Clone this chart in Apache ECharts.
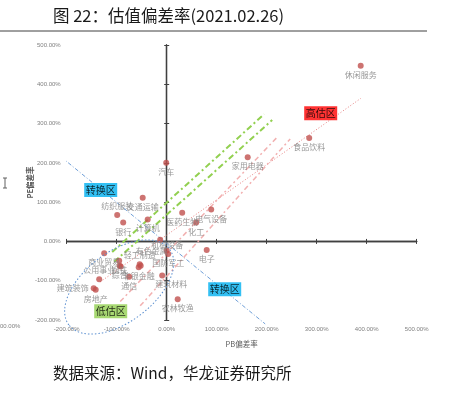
<!DOCTYPE html>
<html>
<head>
<meta charset="utf-8">
<script src="https://cdn.jsdelivr.net/npm/echarts@6.0.0/dist/echarts.min.js"></script>
<style>
  html, body { margin: 0; padding: 0; background: #fff; }
  #main { width: 452px; height: 397px; }
</style>
</head>
<body>
<div id="main"></div>
<script>
// industry valuation deviation, PB (x) vs PE (y), in %
var industries = ['休闲服务', '食品饮料', '家用电器', '汽车', '交通运输', '纺织服装', '银行',
  '计算机', '医药生物', '电气设备', '化工', '机械设备', '有色金属', '国防军工', '电子',
  '商业贸易', '钢铁', '综合', '采掘', '轻工制造', '非银金融', '传媒', '通信', '公用事业',
  '建筑装饰', '房地产', '建筑材料', '农林牧渔'];
var pbDev = [388, 285, 162, -1, -48, -99, -87, -38, 31, 89, 59, -13, 0, 3, 80,
  -125, -95, -94, -92, -54, -56, -52, -75, -135, -146, -142, -9, 22];
var peDev = [447, 263, 214, 200, 111, 67, 48, 56, 73, 81, 48, 4, -23, -32, -22,
  -30, -49, -62, -64, -58, -66, -62, -90, -96, -119, -123, -87, -147];

// guide lines, [pb, pe] endpoints
var transitionLine = [[-239, 244], [197, -210]];
var trendLine = [[-133, -103], [388, 364]];
var greenLineA = [[-109, -27], [195, 324]];
var greenLineB = [[-105, -52], [211, 309]];
var pinkLineA = [[-93, -153], [223, 268]];
var pinkLineB = [[-53, -164], [247, 261]];

// zone tags
var zoneNames = ['转换区', '转换区', '高估区', '低估区'];
var zonePb = [-132, 116, 308, -112];
var zonePe = [131, -122, 326, -178];
var zoneColors = {'转换区': '#00b0f0', '高估区': '#ff0000', '低估区': '#92d050'};

// low-valuation ellipse centre
var ellipseCenter = [-95, -116];

var xTicks = {min: -200, max: 500, interval: 100};
var yTicks = {min: -200, max: 500, interval: 100};

var labelPlace = {'纺织服装': 'top', '有色金属': 'left', '建筑装饰': 'left', '公用事业': 'top', '轻工制造': 'top'};
var labelShift = {'机械设备': [7, -4], '建筑材料': [9, -1], '有色金属': [6, 0]};
var noLabel = ['采掘', '传媒'];

var chart = echarts.init(document.getElementById('main'));
var pct = function (v) { return v.toFixed(2) + '%'; };
var axisColor = '#404040';
var grayText = '#808080';
var cjk = '"Noto Sans CJK SC", sans-serif';

function lineAxis(extra) {
  return Object.assign({
    type: 'value',
    axisLabel: {show: false},
    splitLine: {show: false},
    axisLine: {show: true, onZero: true, onZeroAxisIndex: 1, lineStyle: {color: axisColor, width: 1.3}},
    axisTick: {show: true, length: 2.5, lineStyle: {color: axisColor, width: 1}}
  }, extra);
}

var pointData = industries.map(function (name, i) {
  var item = {name: name, value: [pbDev[i], peDev[i]]};
  var lab = {position: labelPlace[name] || 'bottom'};
  if (labelShift[name]) lab.offset = labelShift[name];
  if (noLabel.indexOf(name) >= 0) lab.show = false;
  item.label = lab;
  return item;
});

function guide(data, color, width, dash) {
  return {
    type: 'line',
    data: data,
    symbol: 'none',
    clip: false,
    silent: true,
    z: 1,
    lineStyle: {color: color, width: width, type: dash}
  };
}

var option = {
  backgroundColor: '#fff',
  animation: false,
  grid: {left: 66.7, right: 35.3, top: 45, bottom: 77, outerBoundsMode: 'none'},
  xAxis: [
    Object.assign({
      type: 'value', position: 'bottom',
      name: 'PB偏差率', nameLocation: 'middle', nameGap: 20, nameMoveOverlap: false,
      nameTextStyle: {color: '#595959', fontSize: 7.5, fontFamily: cjk},
      axisLine: {show: false, onZero: false}, axisTick: {show: false}, splitLine: {show: false},
      axisLabel: {formatter: pct, fontSize: 6, color: grayText, margin: 6, fontFamily: 'Liberation Sans'}
    }, xTicks),
    lineAxis(Object.assign({}, xTicks)),
    lineAxis(Object.assign({axisTick: {show: true, inside: true, length: 2.5, lineStyle: {color: axisColor}}}, xTicks))
  ],
  yAxis: [
    Object.assign({
      type: 'value', position: 'left',
      name: 'PE偏差率', nameLocation: 'middle', nameGap: 33, nameRotate: 90, nameMoveOverlap: false,
      nameTextStyle: {color: '#595959', fontSize: 7.5, fontFamily: cjk, fontWeight: 'bold'},
      axisLine: {show: false, onZero: false}, axisTick: {show: false}, splitLine: {show: false},
      axisLabel: {formatter: pct, fontSize: 6, color: grayText, margin: 6, fontFamily: 'Liberation Sans'}
    }, yTicks),
    lineAxis(Object.assign({}, yTicks)),
    lineAxis(Object.assign({axisTick: {show: true, inside: true, length: 2.5, lineStyle: {color: axisColor}}}, yTicks))
  ],
  series: [
    guide(transitionLine, '#6f9fd8', 1, [4, 2, 1, 2]),
    guide(trendLine, '#e88080', 1, [1, 2]),
    guide(greenLineA, '#92d050', 2, [6, 3, 2, 3]),
    guide(greenLineB, '#92d050', 2, [6, 3, 2, 3]),
    guide(pinkLineA, '#f2b0b0', 1.5, [5, 3, 2, 3]),
    guide(pinkLineB, '#f2b0b0', 1.5, [5, 3, 2, 3]),
    {
      type: 'scatter',
      data: pointData,
      symbolSize: 6,
      z: 3,
      itemStyle: {color: '#c0504d'},
      label: {show: true, formatter: '{b}', fontSize: 8, color: grayText, fontFamily: cjk, distance: 2}
    },
    {
      type: 'scatter',
      symbol: 'rect',
      symbolSize: [33, 14],
      z: 4,
      silent: true,
      data: zoneNames.map(function (n, i) {
        return {name: n, value: [zonePb[i], zonePe[i]], itemStyle: {color: zoneColors[n]}};
      }),
      label: {show: true, position: 'inside', formatter: '{b}', fontSize: 10, color: '#000', fontFamily: cjk}
    }
  ],
  graphic: [
    {type: 'text', left: 53, top: 7, style: {text: '图 22：估值偏差率(2021.02.26)', fontSize: 16.5, fill: '#1a1a1a', fontFamily: cjk}},
    {type: 'line', shape: {x1: 0, y1: 31, x2: 427, y2: 31}, style: {stroke: '#404040', lineWidth: 1}},
    {type: 'text', left: 53, top: 365, style: {text: '数据来源：Wind，华龙证券研究所', fontSize: 15.5, fill: '#1a1a1a', fontFamily: cjk}},
    {type: 'text', left: 0, top: 323, style: {text: '00.00%', fontSize: 6, fill: grayText, fontFamily: 'Liberation Sans'}},
    {type: 'line', shape: {x1: 5, y1: 178, x2: 5, y2: 188}, style: {stroke: '#606060', lineWidth: 1}},
    {type: 'line', shape: {x1: 3, y1: 178, x2: 7, y2: 178}, style: {stroke: '#606060', lineWidth: 1}},
    {type: 'line', shape: {x1: 3, y1: 188, x2: 7, y2: 188}, style: {stroke: '#606060', lineWidth: 1}}
  ]
};

chart.setOption(option);

var c = chart.convertToPixel({xAxisIndex: 0, yAxisIndex: 0}, ellipseCenter);
chart.setOption({
  graphic: [{
    id: 'lowEllipse',
    type: 'ellipse',
    x: c[0], y: c[1],
    rotation: 37 * Math.PI / 180,
    shape: {cx: 0, cy: 0, rx: 63, ry: 35},
    style: {fill: null, stroke: '#5b8fd0', lineWidth: 1, lineDash: [1.5, 2]},
    z: 5,
    silent: true
  }]
});
</script>
</body>
</html>
